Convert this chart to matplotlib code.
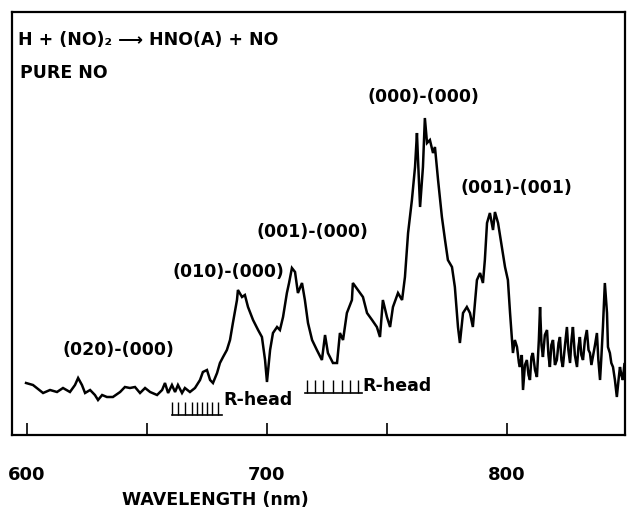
import matplotlib
matplotlib.use("Agg")
import matplotlib.pyplot as plt

# ---- data ----
wavelength = [599.6, 602.5, 606.7, 609.6, 612.5, 615.0, 617.9, 620.0, 621.3, 622.9,
              624.2, 626.3, 628.3, 629.6, 631.3, 633.3, 635.8, 638.8, 640.8, 642.9,
              645.0, 647.1, 649.2, 651.3, 654.2, 656.3, 657.5, 658.8, 660.4, 661.7,
              662.9, 664.6, 665.8, 667.9, 670.0, 672.1, 673.3, 675.0, 676.3, 677.5,
              679.2, 680.4, 681.7, 683.3, 684.6, 685.8, 687.5, 687.9, 689.6, 690.8,
              692.1, 694.2, 696.3, 697.9, 699.2, 700.0, 701.3, 702.5, 704.2, 705.4,
              706.7, 708.3, 709.2, 710.4, 711.7, 712.9, 714.6, 715.8, 717.1, 718.8,
              720.8, 722.9, 724.2, 725.4, 727.5, 729.2, 730.4, 731.7, 733.3, 735.4,
              735.8, 737.9, 740.0, 741.7, 743.8, 745.8, 747.1, 748.3, 750.0, 751.3,
              752.5, 754.6, 756.3, 757.5, 758.8, 760.4, 761.7, 762.5, 762.9, 763.8,
              765.0, 765.8, 766.7, 767.9, 769.2, 770.0, 770.8, 771.3, 772.9, 774.2,
              775.4, 777.1, 778.3, 779.6, 780.4, 781.7, 783.3, 784.6, 785.8, 787.5,
              788.8, 790.0, 790.8, 791.7, 792.9, 794.2, 795.0, 796.3, 797.9, 799.2,
              800.4, 801.3, 802.5, 803.3, 804.2, 805.0, 805.4, 806.2, 806.7, 807.5,
              808.3, 809.0, 809.6, 810.2, 810.8, 811.7, 812.5, 813.3, 813.8, 814.4,
              815.0, 815.8, 816.7, 817.3, 817.9, 818.5, 819.2, 820.0, 820.8, 821.5,
              822.1, 822.7, 823.3, 824.2, 825.0, 825.6, 826.3, 826.9, 827.5, 828.3,
              829.2, 829.8, 830.4, 831.0, 831.7, 832.5, 833.3, 834.0, 834.6, 835.2,
              835.8, 836.7, 837.5, 838.1, 838.8, 839.4, 840.0, 840.8, 841.7, 842.1,
              842.9, 843.5, 844.2, 845.0, 845.8, 846.5, 847.1, 847.7, 848.3, 849.0,
              850.0]
intensity = [52, 50, 42, 45, 43, 47, 43, 50, 57, 50,
             42, 45, 40, 35, 40, 38, 38, 43, 48, 47,
             48, 42, 47, 43, 40, 45, 52, 42, 50, 43,
             50, 42, 47, 43, 47, 55, 63, 65, 55, 52,
             62, 72, 78, 85, 95, 112, 135, 145, 138, 140,
             128, 115, 105, 98, 75, 53, 85, 102, 108, 105,
             118, 142, 152, 167, 163, 142, 152, 135, 112, 95,
             85, 75, 100, 82, 72, 72, 102, 95, 122, 135,
             152, 145, 138, 122, 115, 108, 98, 135, 118, 108,
             128, 142, 135, 158, 202, 235, 268, 302, 278, 228,
             268, 317, 292, 295, 282, 288, 268, 255, 218, 195,
             175, 168, 148, 108, 92, 122, 128, 122, 108, 155,
             162, 152, 175, 212, 222, 205, 223, 212, 188, 168,
             155, 122, 82, 95, 88, 72, 68, 80, 45, 70,
             75, 60, 55, 78, 82, 65, 58, 95, 128, 90,
             78, 100, 105, 80, 68, 90, 95, 70, 75, 92,
             98, 75, 68, 90, 108, 85, 72, 95, 108, 80,
             68, 88, 98, 80, 75, 95, 105, 85, 82, 70,
             78, 90, 102, 75, 55, 80, 108, 152, 122, 88,
             82, 72, 68, 55, 38, 55, 68, 60, 55, 72,
             65]

xticks = [600, 650, 700, 750, 800]
xtick_labels = ["600", "", "700", "", "800"]

band_labels = ["(000)-(000)", "(001)-(001)", "(001)-(000)", "(010)-(000)", "(020)-(000)"]
band_x = [765.4, 803.8, 718.8, 683.8, 638.3]
band_y = [338, 247, 203, 163, 85]

rhead1_lines = [660.4, 662.9, 665.8, 668.8, 670.8, 672.9, 675.0, 677.1, 679.6]
rhead2_lines = [716.7, 720.0, 723.3, 727.5, 731.3, 734.6, 737.9]

# ---- figure ----
fig = plt.figure(figsize=(6.28, 5.13), dpi=100)
ax = fig.add_axes([12/628, 1-435/513, (625-12)/628, (435-12)/513])
ax.plot(wavelength, intensity, color="black", lw=1.8, solid_joinstyle="miter")

ax.set_xlim(593.75, 849.2)
ax.set_ylim(0, 423)
ax.set_xticks(xticks)
ax.set_xticklabels(xtick_labels, fontsize=13, fontweight="bold")
ax.tick_params(axis="x", direction="in", length=9, width=1.2, pad=22)
ax.set_yticks([])
for s in ax.spines.values():
    s.set_linewidth(1.6)
    s.set_color("black")

fk = dict(fontsize=12.5, fontweight="bold", color="black")
ax.text(596.3, 395, "H + (NO)\u2082 \u27f6 HNO(A) + NO", ha="left", va="center", **fk)
ax.text(597.1, 362, "PURE NO", ha="left", va="center", **fk)
for lab, bx, by in zip(band_labels, band_x, band_y):
    ax.text(bx, by, lab, ha="center", va="center", **fk)

# R-head markers
ax.plot([660.4, 681.3], [20, 20], color="black", lw=1.2)
ax.vlines(rhead1_lines, 20, 33, color="black", lw=1.0)
ax.text(681.9, 35, "R-head", ha="left", va="center", **fk)
ax.plot([715.8, 739.6], [42, 42], color="black", lw=1.2)
ax.vlines(rhead2_lines, 42, 55, color="black", lw=1.0)
ax.text(739.8, 49, "R-head", ha="left", va="center", **fk)

fig.text(215/628, 1-500/513, "WAVELENGTH (nm)", ha="center", va="center", **fk)

fig.savefig("out.png", dpi=100)
